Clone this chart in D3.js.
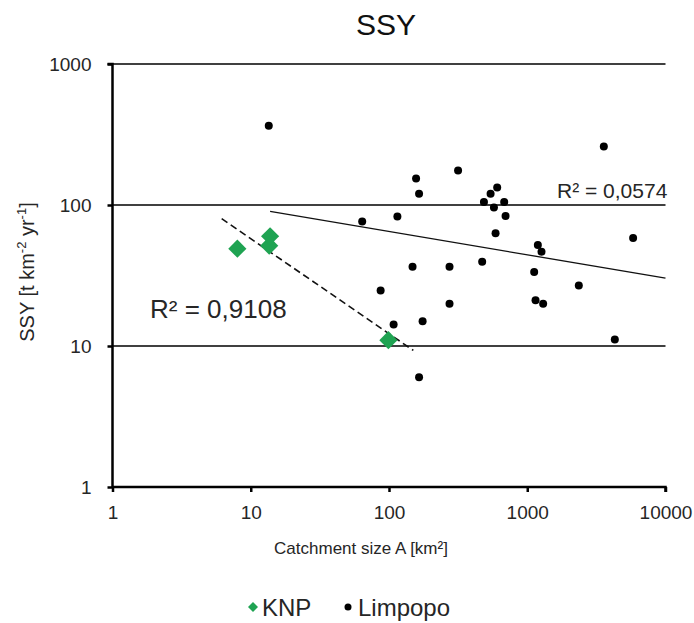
<!DOCTYPE html>
<html>
<head>
<meta charset="utf-8">
<script src="https://cdn.jsdelivr.net/npm/d3@7"></script>
<style>
  html, body { margin: 0; padding: 0; background: #fff; }
  svg { display: block; font-family: Arial, "Liberation Sans", sans-serif; }
</style>
</head>
<body>
<div id="chart"></div>
<script>
// KNP catchments: area [km²], SSY [t km-2 yr-1]
const knpArea = [8, 13.6, 13.8, 99];
const knpSsy = [49, 51.5, 60, 11];

// Limpopo catchments
const limArea = [13.5, 64, 115, 87, 3580, 157, 165, 316, 606, 543, 486, 574, 681, 697, 590,
  1193, 1268, 5830, 148, 274, 472, 1122, 2360, 274, 1148, 1303, 175, 108, 4300, 165];
const limSsy = [365, 76.5, 83, 24.8, 260, 154, 120, 176, 133, 120, 105, 96, 105, 83.5, 63,
  52, 46.7, 58.3, 36.5, 36.5, 39.6, 33.5, 26.9, 19.9, 21.1, 19.9, 15, 14.2, 11.1, 6];

// power trend lines as drawn (end points in data units)
const knpTrend = [[6.16, 80], [150, 9.3]];
const limTrend = [[13.8, 90], [10000, 30.3]];
const knpR2 = 'R² = 0,9108';
const limR2 = 'R² = 0,0574';

const xTicks = [1, 10, 100, 1000, 10000];
const yTicks = [1, 10, 100, 1000];

const W = 694, H = 623;
const mLeft = 112.5, mRight = 665.5, mTop = 64, mBottom = 487;
const green = '#1fa352';
const ink = '#262626';

const x = d3.scaleLog().domain([1, 10000]).range([mLeft, mRight]);
const y = d3.scaleLog().domain([1, 1000]).range([mBottom, mTop]);

const svg = d3.select('#chart').append('svg').attr('width', W).attr('height', H);

// horizontal gridlines
svg.append('g')
  .selectAll('line')
  .data(yTicks.slice(1))
  .join('line')
  .attr('x1', mLeft).attr('x2', mRight)
  .attr('y1', (d) => y(d)).attr('y2', (d) => y(d))
  .attr('stroke', '#000').attr('stroke-width', 1.4);

// axes
const yAxis = svg.append('g')
  .attr('transform', `translate(${mLeft},0)`)
  .call(d3.axisLeft(y).tickValues(yTicks).tickFormat(d3.format('d')).tickSize(5).tickPadding(16));
const xAxis = svg.append('g')
  .attr('transform', `translate(0,${mBottom})`)
  .call(d3.axisBottom(x).tickValues(xTicks).tickFormat(d3.format('d')).tickSize(5).tickPadding(14));

[yAxis, xAxis].forEach((a) => {
  a.select('.domain').attr('stroke', '#000').attr('stroke-width', 2.5);
  a.selectAll('.tick line').attr('stroke', '#000').attr('stroke-width', 2.5);
  a.selectAll('.tick text').attr('font-size', 19).attr('fill', ink).attr('font-family', 'Arial, "Liberation Sans", sans-serif');
});
yAxis.select('.domain').attr('d', `M-5,${mTop}H0V${mBottom}`);
xAxis.select('.domain').attr('d', `M${mLeft},0H${mRight}V5`);

// trend lines
const line = d3.line().x((d) => x(d[0])).y((d) => y(d[1]));
svg.append('path').datum(limTrend).attr('d', line)
  .attr('fill', 'none').attr('stroke', '#111').attr('stroke-width', 1.3);
svg.append('path').datum(knpTrend).attr('d', line)
  .attr('fill', 'none').attr('stroke', '#111').attr('stroke-width', 1.6).attr('stroke-dasharray', '7 4');

// Limpopo points
svg.append('g')
  .selectAll('circle')
  .data(limArea.map((a, i) => [a, limSsy[i]]))
  .join('circle')
  .attr('cx', (d) => x(d[0])).attr('cy', (d) => y(d[1]))
  .attr('r', 4).attr('fill', '#000');

// KNP points
const diamond = d3.symbol().type(d3.symbolSquare).size(165);
svg.append('g')
  .selectAll('path')
  .data(knpArea.map((a, i) => [a, knpSsy[i]]))
  .join('path')
  .attr('d', diamond)
  .attr('transform', (d) => `translate(${x(d[0])},${y(d[1])}) rotate(45)`)
  .attr('fill', green);

// R² labels
svg.append('text').attr('x', 557).attr('y', 198).attr('font-size', 21).attr('fill', ink).text(limR2);
svg.append('text').attr('x', 150).attr('y', 318).attr('font-size', 26).attr('fill', ink).text(knpR2);

// titles
svg.append('text').attr('x', 386).attr('y', 35).attr('text-anchor', 'middle')
  .attr('font-size', 30).attr('fill', '#111').text('SSY');
svg.append('text').attr('x', 361).attr('y', 554).attr('text-anchor', 'middle')
  .attr('font-size', 17).attr('fill', ink).text('Catchment size A [km²]');

const yt = svg.append('text')
  .attr('transform', 'translate(34,272) rotate(-90)')
  .attr('text-anchor', 'middle').attr('font-size', 20).attr('fill', ink);
yt.append('tspan').text('SSY [t km');
yt.append('tspan').attr('font-size', 13).attr('dy', -8).text('-2');
yt.append('tspan').attr('dy', 8).text(' yr');
yt.append('tspan').attr('font-size', 13).attr('dy', -8).text('-1');
yt.append('tspan').attr('dy', 8).text(']');

// legend
const lg = svg.append('g').attr('transform', 'translate(0,607)');
lg.append('path').attr('d', d3.symbol().type(d3.symbolSquare).size(50))
  .attr('transform', 'translate(253,0) rotate(45)').attr('fill', green);
lg.append('text').attr('x', 262).attr('y', 9).attr('font-size', 24).attr('fill', ink).text('KNP');
lg.append('circle').attr('cx', 348).attr('cy', 0).attr('r', 3.5).attr('fill', '#000');
lg.append('text').attr('x', 358).attr('y', 9).attr('font-size', 24).attr('fill', ink).text('Limpopo');
</script>
</body>
</html>
